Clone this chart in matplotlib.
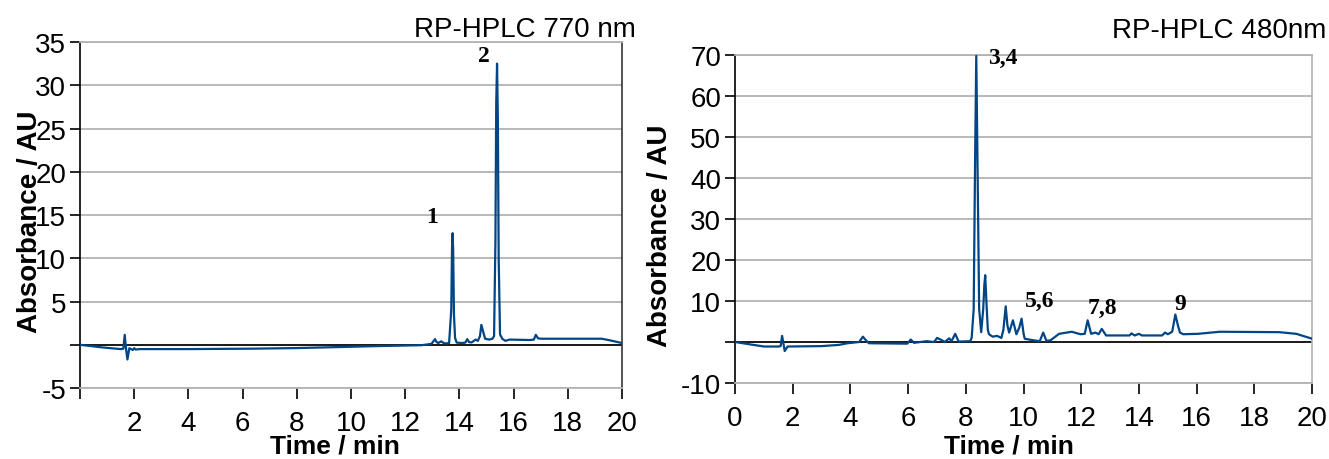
import matplotlib
matplotlib.use("Agg")
import matplotlib.pyplot as plt

# ---------------- data ----------------
t770 = [0.0, 0.8, 1.5, 1.6, 1.65, 1.7, 1.75, 1.82,
        1.95, 2.0, 2.05, 2.2, 4.0, 6.4, 8.0, 9.5,
        11.0, 12.6, 12.97, 13.05, 13.1, 13.15, 13.22, 13.33,
        13.42, 13.5, 13.62, 13.7, 13.73, 13.75, 13.77, 13.8,
        13.84, 13.9, 14.1, 14.22, 14.29, 14.36, 14.45, 14.6,
        14.68, 14.76, 14.81, 14.87, 14.95, 15.1, 15.22, 15.28,
        15.33, 15.36, 15.39, 15.42, 15.45, 15.5, 15.58, 15.7,
        15.85, 16.6, 16.75, 16.82, 16.9, 17.0, 18.8, 19.25,
        19.5, 20.0]
a770 = [0.0, -0.3, -0.5, -0.45, 1.15, -0.5, -1.7, -0.4,
        -0.6, -0.4, -0.55, -0.5, -0.5, -0.45, -0.38, -0.27,
        -0.15, -0.05, 0.1, 0.45, 0.65, 0.35, 0.2, 0.4,
        0.2, 0.15, 0.2, 4.0, 11.5, 12.9, 11.0, 3.5,
        0.8, 0.25, 0.2, 0.25, 0.65, 0.3, 0.27, 0.6,
        0.45, 1.0, 2.3, 1.6, 0.7, 0.6, 0.7, 1.0,
        12.0, 28.0, 32.5, 26.0, 10.0, 1.2, 0.7, 0.45,
        0.6, 0.55, 0.6, 1.15, 0.75, 0.7, 0.7, 0.7,
        0.55, 0.2]

t480 = [0.0, 1.0, 1.5, 1.58, 1.63, 1.68, 1.72, 1.82,
        3.0, 3.6, 3.9, 4.3, 4.43, 4.55, 4.64, 5.97,
        6.09, 6.2, 6.64, 6.9, 7.0, 7.15, 7.27, 7.42,
        7.5, 7.63, 7.75, 8.15, 8.2, 8.27, 8.32, 8.36,
        8.40, 8.46, 8.53, 8.6, 8.64, 8.67, 8.71, 8.76,
        8.8, 8.93, 9.08, 9.23, 9.3, 9.38, 9.44, 9.5,
        9.63, 9.75, 9.85, 9.93, 10.0, 10.04, 10.27, 10.56,
        10.68, 10.79, 10.93, 11.23, 11.67, 11.97, 12.12, 12.22,
        12.34, 12.49, 12.6, 12.71, 12.86, 13.67, 13.74, 13.85,
        14.0, 14.1, 14.8, 14.9, 15.0, 15.15, 15.26, 15.35,
        15.42, 15.53, 16.05, 16.8, 18.86, 19.45, 20.0]
a480 = [0.0, -1.1, -1.1, -1.0, 1.5, -0.5, -2.2, -1.1,
        -1.0, -0.7, -0.3, 0.0, 1.3, 0.3, -0.3, -0.4,
        0.6, -0.2, 0.2, 0.0, 1.0, 0.5, 0.0, 0.9,
        0.2, 2.0, 0.1, 0.2, 1.0, 8.0, 45.0, 69.8,
        45.0, 8.0, 2.4, 8.0, 14.0, 16.3, 10.0, 3.0,
        1.9, 1.3, 1.5, 1.0, 3.0, 8.7, 4.0, 2.3,
        5.3, 1.9, 3.5, 5.7, 2.0, 0.8, 0.5, 0.2,
        2.3, 0.3, 0.4, 2.0, 2.5, 1.9, 2.0, 5.3,
        2.0, 2.3, 1.9, 3.2, 1.6, 1.6, 2.1, 1.6,
        2.0, 1.6, 1.6, 2.3, 1.9, 2.5, 6.7, 4.0,
        2.3, 1.9, 2.0, 2.5, 2.4, 2.0, 0.8]

labels770 = ["1", "2"]
label770_t = [13.0, 14.9]
label770_a = [14.8, 33.4]

labels480 = ["3,4", "5,6", "7,8", "9"]
label480_t = [9.29, 10.57, 12.72, 15.42]
label480_a = [69.5, 10.2, 8.5, 9.5]

titles = ["RP-HPLC 770 nm", "RP-HPLC 480nm"]
xticks = [0, 2, 4, 6, 8, 10, 12, 14, 16, 18, 20]
xtick_labels_770 = ["", "2", "4", "6", "8", "10", "12", "14", "16", "18", "20"]
xtick_labels_480 = ["0", "2", "4", "6", "8", "10", "12", "14", "16", "18", "20"]
yticks_770 = [-5, 0, 5, 10, 15, 20, 25, 30, 35]
ytick_labels_770 = ["-5", "", "5", "10", "15", "20", "25", "30", "35"]
yticks_480 = [-10, 0, 10, 20, 30, 40, 50, 60, 70]
ytick_labels_480 = ["-10", "", "10", "20", "30", "40", "50", "60", "70"]

# ---------------- style ----------------
plt.rcParams["font.family"] = ["Liberation Sans", "DejaVu Sans"]
serif = ["Liberation Serif", "DejaVu Serif"]

LINE = "#004586"
GRID = "#b3b3b3"

fig = plt.figure(figsize=(13.29, 4.6), dpi=100)
ax1 = fig.add_axes([0.0602, 0.1543, 0.4078, 0.7522])
ax2 = fig.add_axes([0.5531, 0.1652, 0.4342, 0.7130])


def style(ax, yt, ytl, xtl, ylim, title, title_y, xlab_pos, ylab_pos, right_color):
    ax.set_xlim(0, 20)
    ax.set_ylim(*ylim)
    ax.set_xticks(xticks)
    ax.set_xticklabels(xtl, fontsize=20)
    ax.set_yticks(yt)
    ax.set_yticklabels(ytl, fontsize=20)
    ax.tick_params(axis="x", direction="out", length=8, width=1.2, color="black", pad=8)
    ax.tick_params(axis="y", direction="out", length=7, width=1.2, color="black", pad=3)
    ax.yaxis.grid(True, color=GRID, linewidth=1.3)
    ax.set_axisbelow(True)
    for s in ("top", "bottom"):
        ax.spines[s].set_color(GRID)
        ax.spines[s].set_linewidth(1.3)
    ax.spines["right"].set_color(right_color)
    ax.spines["right"].set_linewidth(1.2)
    ax.spines["left"].set_color("black")
    ax.spines["left"].set_linewidth(1.2)
    ax.axhline(0, color="black", linewidth=1.2, zorder=2)
    ax.set_xlabel("Time / min", fontsize=19, fontweight="bold", va="center")
    ax.xaxis.set_label_coords(*xlab_pos)
    ax.set_ylabel("Absorbance / AU", fontsize=20, fontweight="bold", va="center")
    ax.yaxis.set_label_coords(*ylab_pos)
    ax.text(1.025, title_y, title, transform=ax.transAxes, ha="right", va="baseline", fontsize=20)


ax1.plot(t770, a770, color=LINE, linewidth=1.6, zorder=3)
style(ax1, yticks_770, ytick_labels_770, xtick_labels_770, (-5, 35), titles[0],
      1.017, (0.47, -0.165), (-0.092, 0.483), "#333333")
for s, x, y in zip(labels770, label770_t, label770_a):
    ax1.text(x, y, s, ha="center", va="center", fontsize=17, fontweight="bold", family=serif)

ax2.plot(t480, a480, color=LINE, linewidth=1.6, zorder=3)
style(ax2, yticks_480, ytick_labels_480, xtick_labels_480, (-10, 70), titles[1],
      1.055, (0.475, -0.19), (-0.13, 0.452), GRID)
for s, x, y in zip(labels480, label480_t, label480_a):
    ax2.text(x, y, s, ha="center", va="center", fontsize=17, fontweight="bold", family=serif)

fig.savefig("out.png", dpi=100)
